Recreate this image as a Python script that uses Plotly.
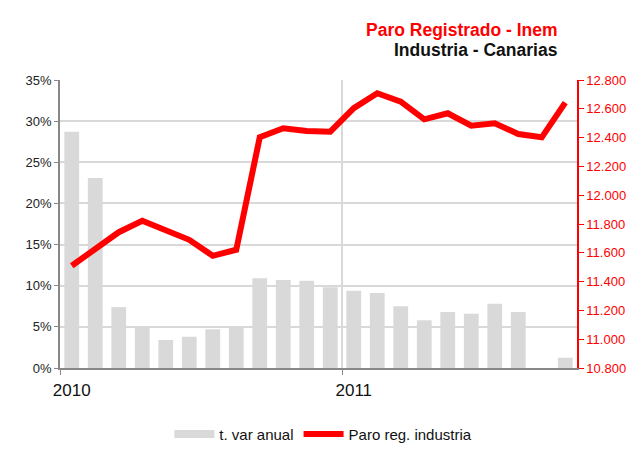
import plotly.graph_objects as go

months = list(range(22))  # Jan 2010 .. Oct 2011
year_ticks = [0, 12]
year_labels = ["2010", "2011"]
var_anual = [28.7, 23.1, 7.4, 4.9, 3.4, 3.8, 4.7, 5.1, 10.9, 10.7, 10.6, 9.8,
             9.4, 9.1, 7.5, 5.8, 6.8, 6.6, 7.8, 6.8, 0.0, 1.25]
paro_industria = [11510, 11632, 11743, 11822, 11755, 11690, 11579, 11621, 12402, 12465, 12446, 12441,
                  12604, 12708, 12650, 12527, 12569, 12483, 12500, 12425, 12402, 12643]

FONT = "Liberation Sans, Arial, sans-serif"
RED = "#FF0000"
GRAY_BAR = "#D9D9D9"

fig = go.Figure()
fig.add_trace(go.Bar(
    x=months, y=[v / 100 for v in var_anual], name="t. var anual",
    marker=dict(color=GRAY_BAR, line=dict(width=0)), width=0.63,
    yaxis="y", hoverinfo="skip", showlegend=False, legendgroup="bar"))
# legend-only entry so the swatch is a wide flat rectangle like the original
fig.add_trace(go.Scatter(
    x=[None], y=[None], name="t. var anual", mode="lines",
    line=dict(color=GRAY_BAR, width=8), yaxis="y", legendgroup="bar"))
fig.add_trace(go.Scatter(
    x=months, y=paro_industria, name="Paro reg. industria", mode="lines",
    line=dict(color=RED, width=6), yaxis="y2"))

fig.update_layout(
    width=634, height=450,
    margin=dict(l=60, r=57, t=80, b=82, autoexpand=False),
    paper_bgcolor="white", plot_bgcolor="white",
    separators=",.",
    font=dict(family=FONT, size=13, color="#222222"),
    showlegend=True,
    legend=dict(orientation="h", x=0.51, xanchor="center", xref="container",
                y=0.035, yanchor="middle", yref="container",
                font=dict(size=15, color="#111111"), itemwidth=40, tracegroupgap=0),
    xaxis=dict(
        automargin=False,
        range=[-0.5, 21.5], tickmode="array", tickvals=year_ticks, ticktext=year_labels,
        ticks="", showgrid=False, zeroline=False,
        showline=True, linecolor="#888888", linewidth=1.5,
        tickfont=dict(size=17, color="#111111"), ticklabelstandoff=6,
        minor=dict(tickmode="array", tickvals=[-0.5, 11.5], ticks="outside", ticklen=5,
                   tickcolor="#888888", showgrid=True, gridcolor="#D9D9D9", gridwidth=1.5)),
    yaxis=dict(
        automargin=False,
        range=[0, 0.35], dtick=0.05, tickformat=".0%", showgrid=True,
        gridcolor="#D9D9D9", gridwidth=1.5, zeroline=False,
        showline=True, linecolor="#888888", linewidth=1.5,
        ticks="outside", ticklen=4, tickcolor="#888888",
        tickfont=dict(size=13, color="#222222")),
    yaxis2=dict(
        automargin=False,
        range=[10800, 12800], dtick=200, tickformat=",.0f", overlaying="y", side="right",
        showgrid=False, zeroline=False, showline=True, linecolor=RED, linewidth=1.5,
        ticks="outside", ticklen=5, tickcolor=RED,
        tickfont=dict(size=13, color=RED)),
    annotations=[
        dict(text="<b>Paro Registrado - Inem</b>", xref="paper", yref="paper",
             x=0.967, y=1.0, yshift=50, xanchor="right", yanchor="middle", showarrow=False,
             font=dict(size=17.5, color=RED, family=FONT)),
        dict(text="<b>Industria - Canarias</b>", xref="paper", yref="paper",
             x=0.967, y=1.0, yshift=30, xanchor="right", yanchor="middle", showarrow=False,
             font=dict(size=17.5, color="#111111", family=FONT)),
    ],
)

fig.write_html("out.html", config={"displayModeBar": False},
               post_script="document.body.style.margin='0';document.body.style.overflow='hidden';")
